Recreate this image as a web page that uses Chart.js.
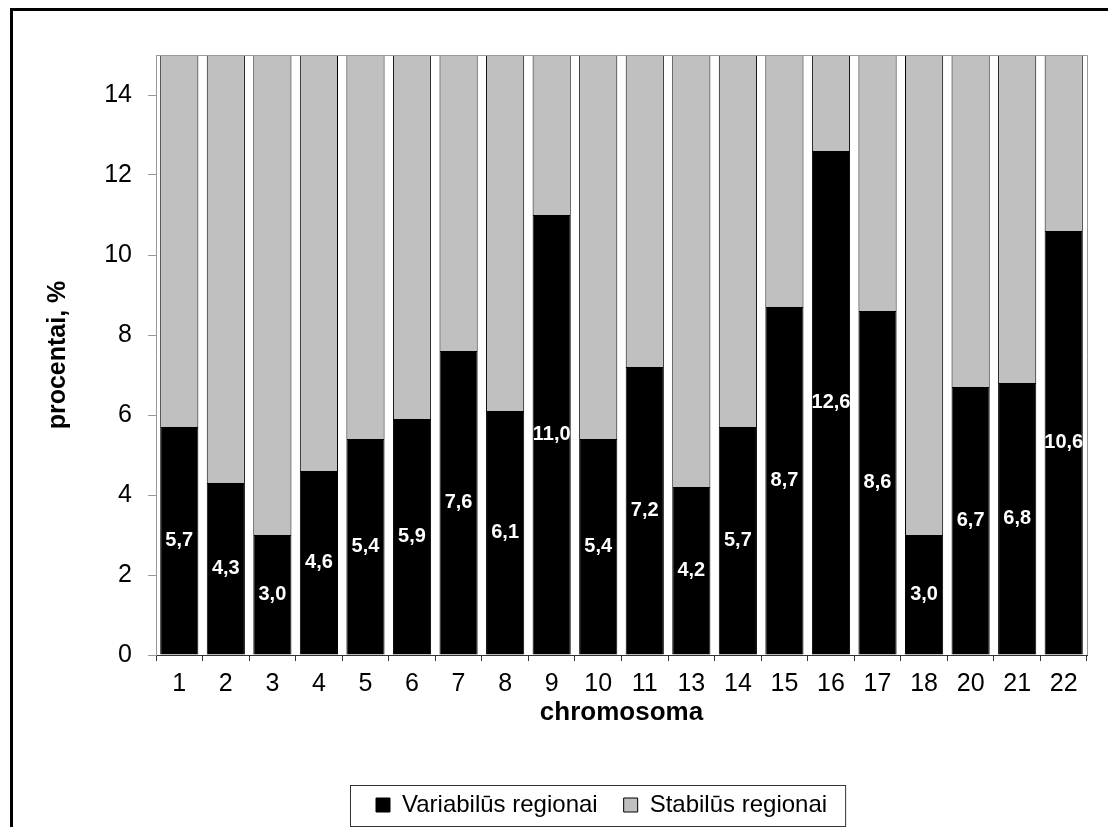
<!DOCTYPE html>
<html lang="lt">

<head>
    <meta charset="UTF-8" />
    <title>Variabilūs ir stabilūs regionai pagal chromosomą</title>
    <style>
        html, body { margin: 0; padding: 0; background: #fff; overflow: hidden; }
        canvas { display: block; }
    </style>
</head>

<body>

    <canvas id="chart" width="1108" height="827"></canvas>

</body>

<script src="https://cdn.jsdelivr.net/npm/chart.js@4/dist/chart.umd.min.js"></script>

<script>
    // chart data
    const chromosomes = ['1', '2', '3', '4', '5', '6', '7', '8', '9', '10', '11', '13', '14', '15', '16', '17', '18', '20', '21', '22'];
    const variable = [5.7, 4.3, 3.0, 4.6, 5.4, 5.9, 7.6, 6.1, 11.0, 5.4, 7.2, 4.2, 5.7, 8.7, 12.6, 8.6, 3.0, 6.7, 6.8, 10.6];
    const stable = variable.map(v => +(100 - v).toFixed(1));   // rest of 100 %
    const yTicks = [0, 2, 4, 6, 8, 10, 12, 14];
    const seriesNames = ['Variabilūs regionai', 'Stabilūs regionai'];

    const FONT = "'Liberation Sans', Arial, sans-serif";

    // outer frame, plot frame, value labels, legend box
    const decor = {
        id: 'decor',
        afterLayout(chart) {
            // move the legend to the right, like in the original
            const lg = chart.legend;
            lg.left += 338; lg.right += 338;
        },
        beforeDraw(chart) {
            const ctx = chart.ctx;
            ctx.save();
            ctx.fillStyle = '#000';
            ctx.fillRect(10, 8, 3, chart.height);
            ctx.fillRect(10, 8, chart.width, 3);
            ctx.restore();
        },
        afterDatasetsDraw(chart) {
            const ctx = chart.ctx;
            const a = chart.chartArea;
            ctx.save();
            ctx.strokeStyle = '#999';
            ctx.lineWidth = 1;
            ctx.beginPath();
            ctx.moveTo(a.left, a.top + 0.5);
            ctx.lineTo(a.right + 0.5, a.top + 0.5);
            ctx.lineTo(a.right + 0.5, a.bottom);
            ctx.stroke();

            // white labels in the black bars
            const meta = chart.getDatasetMeta(0);
            ctx.fillStyle = '#fff';
            ctx.font = 'bold 20px ' + FONT;
            ctx.textAlign = 'center';
            ctx.textBaseline = 'middle';
            meta.data.forEach((bar, i) => {
                const y = (bar.y + bar.base) / 2;
                ctx.fillText(variable[i].toFixed(1).replace('.', ','), bar.x, y);
            });
            ctx.restore();
        },
        afterDraw(chart) {
            const lg = chart.legend;
            const pad = lg.options.labels.padding;
            const cy = lg.top + pad + 12;
            const ctx = chart.ctx;
            ctx.save();
            ctx.strokeStyle = '#333';
            ctx.lineWidth = 1;
            ctx.strokeRect(lg.left + 0.5, cy - 20 + 0.5, lg.lineWidths[0] + 18, 41);
            ctx.restore();
        }
    };

    const ctx = document.getElementById('chart').getContext('2d');
    const chart = new Chart(ctx, {
        type: 'bar',
        data: {
            labels: chromosomes,
            datasets: [{
                label: seriesNames[0],
                data: variable,
                backgroundColor: '#000',
                borderColor: '#000',
                borderWidth: 1
            }, {
                label: seriesNames[1],
                data: stable,
                backgroundColor: '#c0c0c0',
                borderColor: '#000',
                borderWidth: 1
            }]
        },
        options: {
            responsive: false,
            animation: false,
            devicePixelRatio: 1,
            barPercentage: 0.82,
            categoryPercentage: 1.0,
            layout: { padding: { top: 55, right: 21, left: 12, bottom: 0 } },
            scales: {
                x: {
                    stacked: true,
                    afterFit: s => { s.height = 112; },
                    border: { color: '#333', width: 1 },
                    grid: { offset: true, drawOnChartArea: false, tickLength: 6, color: '#333' },
                    ticks: { color: '#000', padding: 8, font: { family: FONT, size: 25 } },
                    title: {
                        display: true, text: 'chromosoma', color: '#000',
                        padding: { top: 0, bottom: 39 },
                        font: { family: FONT, size: 26, weight: 'bold' }
                    }
                },
                y: {
                    stacked: true,
                    min: 0,
                    max: 15,
                    afterFit: s => { s.width = 144; },
                    afterBuildTicks: s => { s.ticks = yTicks.map(v => ({ value: v })); },
                    border: { color: '#999', width: 1 },
                    grid: { drawOnChartArea: false, tickLength: 8, color: '#999' },
                    ticks: { color: '#000', padding: 16, font: { family: FONT, size: 25 } },
                    title: {
                        display: true, text: 'procentai, %', color: '#000',
                        padding: { top: 31, bottom: 0 },
                        font: { family: FONT, size: 25, weight: 'bold' }
                    }
                }
            },
            plugins: {
                legend: {
                    position: 'bottom',
                    align: 'start',
                    labels: {
                        color: '#000',
                        boxWidth: 14,
                        boxHeight: 14,
                        padding: 26,
                        font: { family: FONT, size: 24 }
                    }
                },
                tooltip: { enabled: false }
            }
        },
        plugins: [decor]
    });
</script>

</html>
